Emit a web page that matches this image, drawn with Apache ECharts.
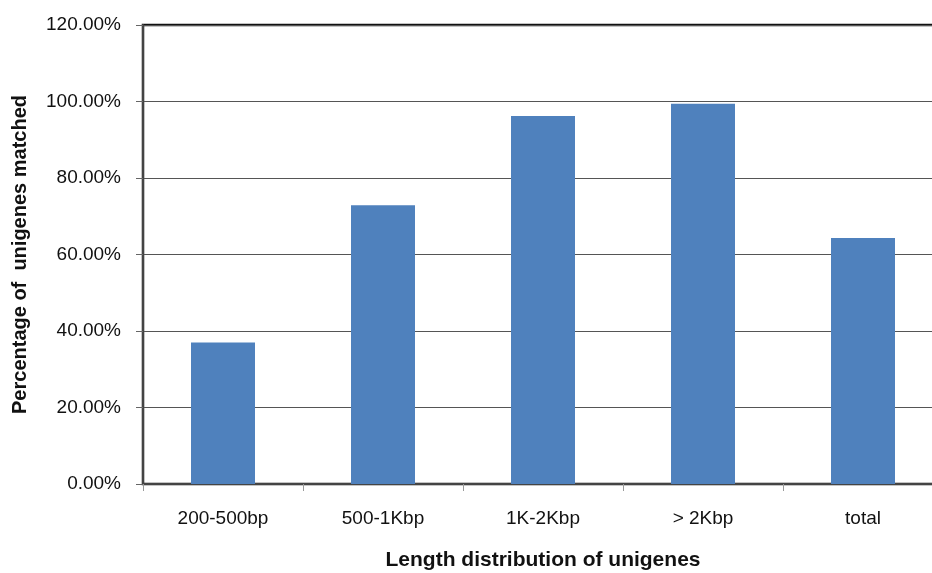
<!DOCTYPE html>
<html><head><meta charset="utf-8">
<script src="https://cdn.jsdelivr.net/npm/echarts@6/dist/echarts.min.js"></script>
<style>html,body{margin:0;padding:0;background:#fff}#c{width:932px;height:573px}</style>
</head><body><div id="c"></div>
<script>
var categories = ['200-500bp', '500-1Kbp', '1K-2Kbp', '> 2Kbp', 'total'];
var values = [37.0, 72.9, 96.2, 99.4, 64.3];
var yTicks = [0, 20, 40, 60, 80, 100, 120];

var chart = echarts.init(document.getElementById('c'));
chart.setOption({
  animation: false,
  grid: { left: 143, top: 25, width: 800, height: 459, outerBoundsMode: 'none', containLabel: false,
    show: true, borderColor: '#111', borderWidth: 2.5, backgroundColor: '#fff' },
  xAxis: {
    type: 'category', data: categories,
    name: 'Length distribution of unigenes', nameLocation: 'middle', nameGap: 66,
    nameTextStyle: { fontFamily: 'Liberation Sans', fontWeight: 'bold', fontSize: 21, color: '#111' },
    axisLine: { lineStyle: { color: '#444', width: 2 } },
    axisTick: { show: true, length: 7, lineStyle: { color: '#999' } },
    axisLabel: { fontFamily: 'Liberation Sans', fontSize: 19, color: '#111', margin: 25 }
  },
  yAxis: {
    type: 'value', min: 0, max: 120, interval: 20,
    name: 'Percentage of  unigenes matched', nameLocation: 'middle', nameGap: 113,
    nameTextStyle: { fontFamily: 'Liberation Sans', fontWeight: 'bold', fontSize: 20, color: '#111' },
    axisLine: { show: true, lineStyle: { color: '#444', width: 2 } },
    axisTick: { show: true, length: 7, lineStyle: { color: '#666' } },
    splitLine: { lineStyle: { color: '#555', width: 1 } },
    axisLabel: { fontFamily: 'Liberation Sans', fontSize: 19, color: '#111', margin: 22,
      formatter: function (v) { return yTicks.indexOf(v) >= 0 ? v.toFixed(2) + '%' : ''; } }
  },
  series: [{
    type: 'bar', data: values, barWidth: '40%',
    itemStyle: { color: '#4F81BD' }
  }]
});
</script></body></html>
